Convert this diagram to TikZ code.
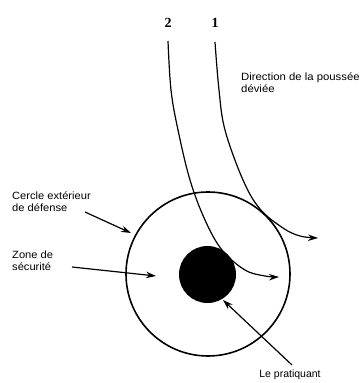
\documentclass[tikz,border=0pt]{standalone}
\usepackage{fontspec}
\usepackage{graphicx}
\setmainfont{Liberation Sans}
\newfontfamily\numfont{Liberation Serif}
\usetikzlibrary{arrows.meta}
\newcommand{\wtext}[2]{\scalebox{#1}[1]{\begin{tabular}{@{}l@{}}#2\end{tabular}}}
\begin{document}
\begin{tikzpicture}[x=1pt,y=-1pt,
  lbl/.style={font=\fontsize{10.5}{12}\selectfont, align=left, inner sep=0pt, anchor=north west},
  num/.style={font=\numfont\bfseries\fontsize{14}{14}\selectfont, inner sep=0pt},
  path/.style={line width=1.2pt, -{Stealth[length=10pt,width=6.5pt]}},
  ptr/.style={line width=1.2pt, -{Stealth[length=10pt,width=6.5pt]}}]
\useasboundingbox (0,0) rectangle (360,383);
% circles
\node (outer) [circle, draw, line width=1.6pt, minimum size=164pt, inner sep=0pt] at (208,274) {};
\node (inner) [circle, fill=black, minimum size=57pt, inner sep=0pt] at (207.5,274.5) {};
% numbers
\node (n2) [num] at (168,23) {2};
\node (n1) [num] at (215,23) {1};
% labels
\node (dir) [lbl] at (241,72) {\wtext{1.08}{\renewcommand{\arraystretch}{0.85}Direction de la poussée\\déviée}};
\node (cer) [lbl] at (12,191) {\wtext{1.06}{\renewcommand{\arraystretch}{0.85}Cercle extérieur\\de défense}};
\node (zon) [lbl] at (12,250) {\wtext{1.06}{\renewcommand{\arraystretch}{0.85}Zone de\\sécurité}};
\node (pra) [lbl, anchor=north] at (290,370) {Le pratiquant};
% curve starts
\coordinate (s2) at (168,41);
\coordinate (s1) at (215,42);
\coordinate (e2) at (279,277);
\coordinate (e1) at (318,238);
\draw[path] plot[smooth, tension=0.6] coordinates {(s2) (171,90) (178,130) (190,180) (205,220) (222,250) (245,270) (265,276) (e2)};
\draw[path] plot[smooth, tension=0.6] coordinates {(s1) (219,90) (225,130) (243,180) (260,209) (283,228) (300,236) (e1)};
% pointers
\coordinate (c1) at (85,212);
\coordinate (c2) at (131,233);
\coordinate (z1) at (72,267);
\coordinate (z2) at (156,276);
\coordinate (p1) at (292,365);
\coordinate (p2) at (223,300);
\draw[ptr] (c1) -- (c2);
\draw[ptr] (z1) -- (z2);
\draw[ptr] (p1) -- (p2);
\end{tikzpicture}
\end{document}
